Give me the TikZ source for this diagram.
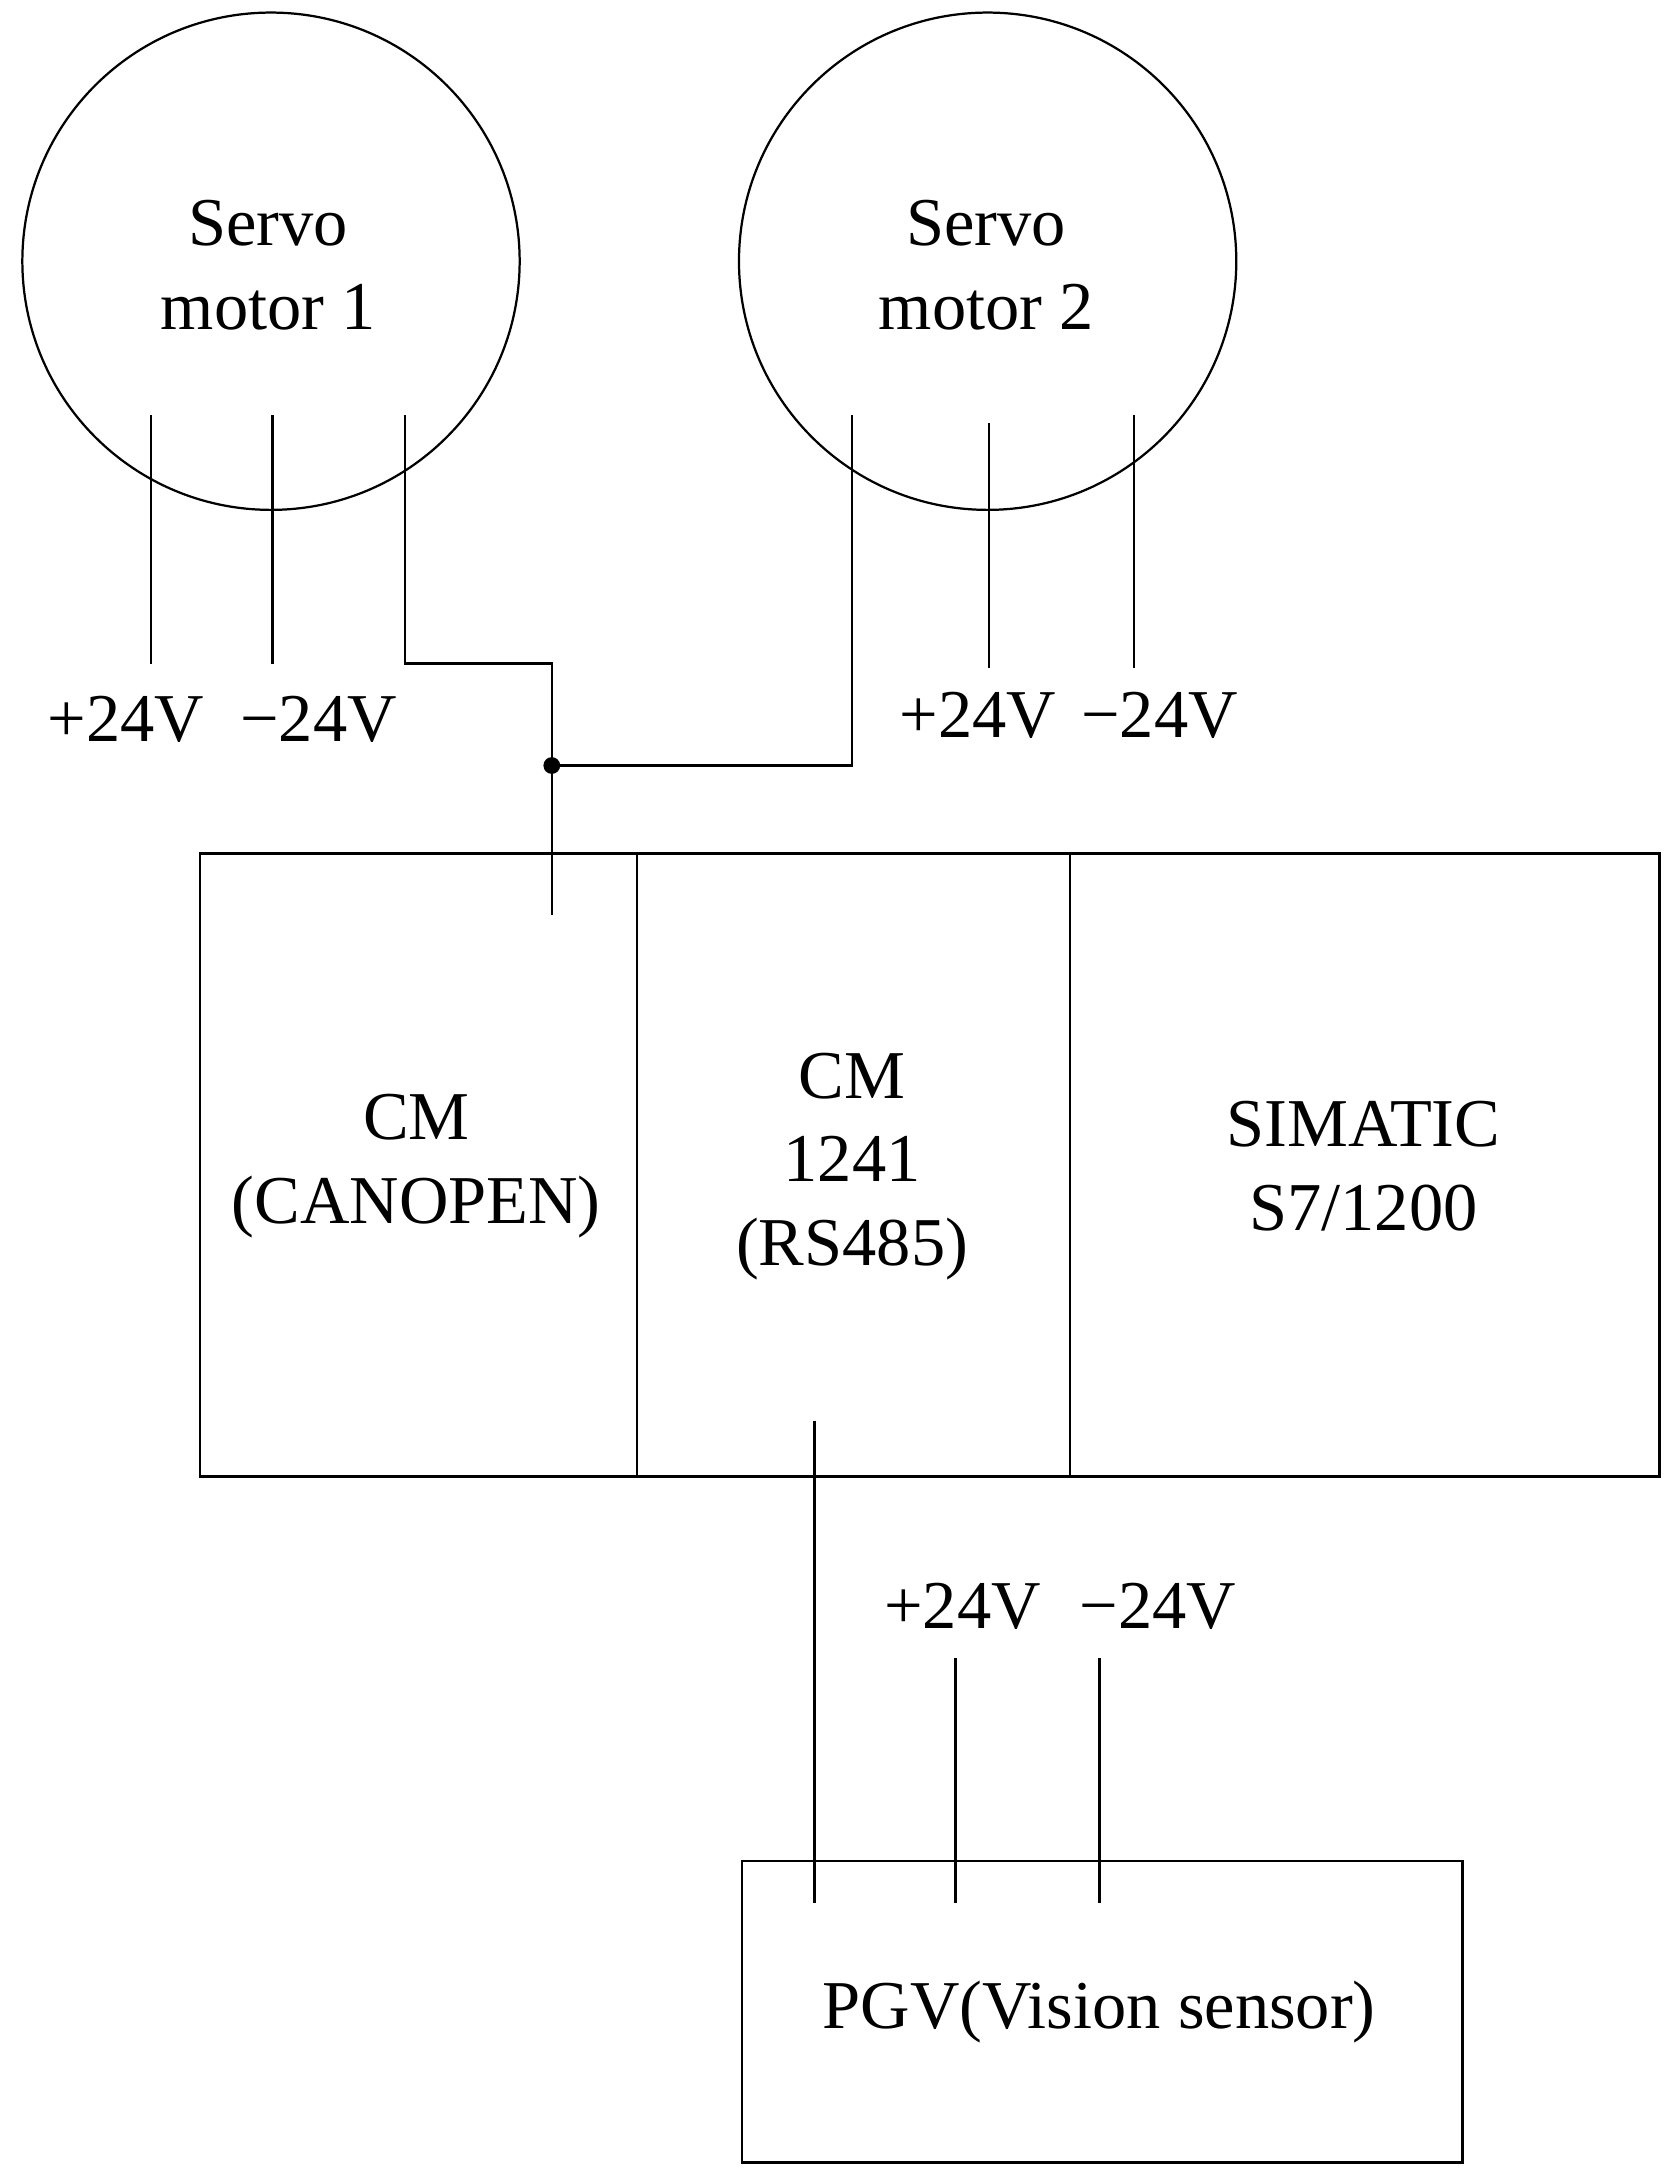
\documentclass[tikz,border=0pt]{standalone}
\usepackage{fontspec}
\setmainfont{Liberation Serif}
\begin{document}
\begin{tikzpicture}[x=1pt,y=-1pt,line width=1.6pt,
  lbl/.style={font=\fontsize{49}{60}\selectfont,align=center,inner sep=0pt},
  wire/.style={line width=1.6pt}]
\useasboundingbox (0,0) rectangle (1200,1562);
% motors
\node[circle,draw,minimum size=356pt,inner sep=0pt] (m1) at (194,187) {};
\node[circle,draw,minimum size=356pt,inner sep=0pt] (m2) at (707,187) {};
\node[lbl] (t1) at (192,190) {Servo\\motor 1};
\node[lbl] (t2) at (706,190) {Servo\\motor 2};
% motor 1 wires
\coordinate (a1) at (108,297); \coordinate (a2) at (108,475);
\coordinate (b1) at (195,297); \coordinate (b2) at (195,475);
\coordinate (c1) at (290,297); \coordinate (c2) at (290,475); \coordinate (c3) at (395,475);
\coordinate (j) at (395,548); \coordinate (jc) at (395,655);
\coordinate (d1) at (610,297); \coordinate (d2) at (610,548);
\draw[wire] (a1)--(a2); \draw[wire] (b1)--(b2);
\draw[wire] (c1)--(c2)--(c3)--(jc);
\draw[wire] (j)--(d2)--(d1);
\fill (j) circle (6pt);
\coordinate (e1) at (708,303); \coordinate (e2) at (708,478);
\coordinate (f1) at (812,297); \coordinate (f2) at (812,478);
\draw[wire] (e1)--(e2); \draw[wire] (f1)--(f2);
\node[lbl] (v1) at (90,515) {+24V};
\node[lbl] (v2) at (228,515) {−24V};
\node[lbl] (v3) at (700,512) {+24V};
\node[lbl] (v4) at (830,512) {−24V};
% PLC box
\draw (143,611) rectangle (1188,1057);
\draw (456,611)--(456,1057);
\draw (766,611)--(766,1057);
\node[lbl] (cm) at (298,835) {CM\\(CANOPEN)};
\node[lbl] (cm2) at (610,835) {CM\\1241\\(RS485)};
\node[lbl] (sim) at (976,835) {SIMATIC\\S7/1200};
% PGV
\node[draw,minimum width=516pt,minimum height=216pt,inner sep=0pt] (pgv) at (789,1440) {};
\node[lbl] (pt) at (787,1440) {PGV(Vision sensor)};
\coordinate (g1) at (583,1017); \coordinate (g2) at (583,1362);
\coordinate (h1) at (684,1187); \coordinate (h2) at (684,1362);
\coordinate (k1) at (787,1187); \coordinate (k2) at (787,1362);
\draw[wire] (g1)--(g2); \draw[wire] (h1)--(h2); \draw[wire] (k1)--(k2);
\node[lbl] (v5) at (689,1150) {+24V};
\node[lbl] (v6) at (829,1150) {−24V};
\end{tikzpicture}
\end{document}
